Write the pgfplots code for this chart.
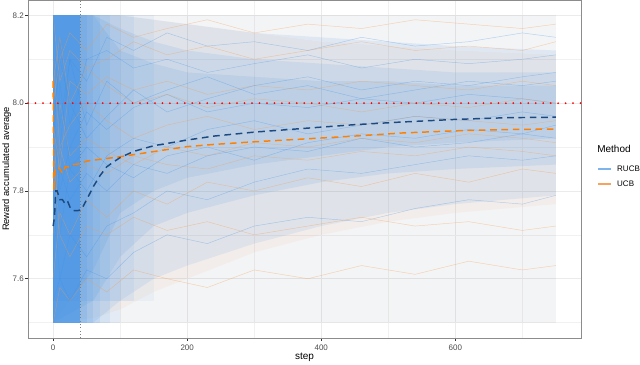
\documentclass[border=0pt]{standalone}
\usepackage{fontspec}
\setmainfont{Liberation Sans}
\usepackage{pgfplots}
\usepackage{pgfplotstable}
\usepgfplotslibrary{fillbetween}
\pgfplotsset{compat=1.18}

\definecolor{rucbL}{HTML}{3D8EE6}
\definecolor{ucbL}{HTML}{F59A4A}
\definecolor{rucbM}{HTML}{1C4A80}
\definecolor{ucbM}{HTML}{FF7F00}
\definecolor{gridc}{HTML}{EBEBEB}
\definecolor{txt}{HTML}{4D4D4D}
\definecolor{keyB}{HTML}{7FB3EC}
\definecolor{keyO}{HTML}{F6A35E}

% sample paths (thin background lines)
\pgfplotstableread{
step b1 b2 b3 b4 b5 b6 b7 b8 b9 b10 o1 o2 o3 o4 o5 o6 o7 o8 o9 o10
0   7.60 8.10 7.90 7.55 8.00 7.70 8.20 7.80 7.95 7.65 8.10 7.60 8.20 7.80 7.50 7.95 7.70 8.05 7.90 8.00
10  7.90 7.70 8.15 7.60 7.80 8.05 7.95 7.60 8.10 7.85 7.90 7.75 8.05 8.00 7.58 7.85 7.90 8.15 7.70 8.10
25  8.10 7.85 7.95 7.70 7.90 7.85 8.10 7.55 8.00 7.78 7.95 7.70 8.12 7.88 7.55 8.05 7.82 8.00 7.65 8.16
50  7.95 7.80 8.10 7.65 7.98 7.90 8.05 7.62 7.92 7.84 8.00 7.78 8.08 7.92 7.60 8.02 7.86 8.08 7.72 8.12
80  8.05 7.88 8.12 7.72 7.94 7.86 8.15 7.60 7.97 7.80 7.96 7.74 8.10 7.89 7.57 8.06 7.84 8.04 7.70 8.18
120 8.00 7.92 8.08 7.75 7.99 7.83 8.12 7.66 8.03 7.86 7.92 7.80 8.14 7.86 7.62 8.03 7.88 8.00 7.74 8.15
170 8.03 7.90 8.10 7.80 8.02 7.88 8.16 7.70 7.98 7.84 7.95 7.77 8.11 7.90 7.60 8.05 7.86 8.02 7.71 8.17
230 8.06 7.94 8.07 7.78 7.98 7.90 8.13 7.68 8.01 7.88 7.97 7.82 8.13 7.88 7.58 8.02 7.85 7.99 7.73 8.19
300 8.02 7.96 8.09 7.82 8.00 7.87 8.14 7.72 8.04 7.90 7.94 7.80 8.10 7.91 7.62 8.04 7.88 8.01 7.70 8.16
380 8.04 7.93 8.11 7.85 7.99 7.91 8.12 7.74 8.06 7.89 7.96 7.83 8.12 7.90 7.60 8.03 7.87 8.00 7.72 8.18
460 8.01 7.95 8.08 7.84 8.01 7.93 8.15 7.73 8.03 7.92 7.95 7.81 8.14 7.92 7.63 8.05 7.89 7.98 7.74 8.17
540 8.03 7.97 8.10 7.86 8.00 7.92 8.13 7.76 8.05 7.90 7.97 7.84 8.12 7.91 7.61 8.04 7.88 8.00 7.72 8.19
620 8.05 7.96 8.09 7.88 8.02 7.94 8.14 7.78 8.04 7.91 7.96 7.82 8.13 7.93 7.64 8.03 7.90 7.99 7.73 8.18
700 8.04 7.98 8.10 7.87 8.01 7.93 8.16 7.77 8.06 7.93 7.95 7.85 8.12 7.92 7.62 8.05 7.89 8.01 7.71 8.17
750 8.05 7.97 8.11 7.88 8.00 7.95 8.15 7.79 8.07 7.92 7.96 7.84 8.14 7.91 7.63 8.04 7.88 8.00 7.72 8.18
}\paths

% density bands of the runs: upper and lower edges
\pgfplotstableread{
x   u2   l2   u3   l3   u4   l4   uo   lo
0   8.20 7.50 8.20 7.50 8.20 7.50 8.20 7.50
60  8.20 7.50 8.20 7.55 8.20 7.62 8.20 7.51
100 8.20 7.55 8.17 7.65 8.12 7.75 8.20 7.53
150 8.19 7.60 8.14 7.72 8.09 7.80 8.19 7.57
200 8.18 7.63 8.12 7.75 8.07 7.83 8.18 7.60
300 8.16 7.68 8.10 7.79 8.06 7.86 8.16 7.66
400 8.15 7.72 8.09 7.82 8.05 7.88 8.14 7.70
500 8.14 7.75 8.08 7.84 8.05 7.90 8.13 7.73
600 8.13 7.77 8.07 7.85 8.04 7.91 8.12 7.75
750 8.12 7.79 8.07 7.86 8.04 7.92 8.11 7.77
}\bands

% mean curves
\pgfplotstableread{
step y
0 7.72
2 7.74
4 7.80
6 7.80
8 7.79
10 7.78
14 7.78
18 7.77
22 7.775
26 7.76
30 7.755
36 7.755
42 7.757
50 7.78
60 7.81
70 7.835
80 7.855
90 7.866
100 7.876
120 7.89
150 7.903
200 7.916
240 7.925
300 7.934
370 7.942
450 7.951
520 7.957
600 7.963
680 7.967
750 7.968
}\rucbmean

\pgfplotstableread{
step y
0 8.05
1 7.80
3 7.85
6 7.855
10 7.85
14 7.84
18 7.855
24 7.855
30 7.86
40 7.862
50 7.868
70 7.872
100 7.878
130 7.885
160 7.892
200 7.901
240 7.906
300 7.912
370 7.918
450 7.925
520 7.932
600 7.937
680 7.94
750 7.941
}\ucbmean

\begin{document}
\begin{tikzpicture}
\begin{axis}[
  name=ax,
  scale only axis, width=414.75pt, height=253.5pt,
  xmin=-37.5, xmax=787.5, ymin=7.465, ymax=8.235,
  xtick={0,200,400,600}, minor xtick={100,300,500,700},
  ytick={7.6,7.8,8.0,8.2}, minor ytick={7.5,7.7,7.9,8.1},
  grid=both,
  major grid style={color=gridc, line width=0.5pt},
  minor grid style={color=gridc!70, line width=0.3pt},
  tick pos=left, tick align=outside,
  major tick length=2pt, minor tick length=0pt,
  tick style={color=black!80, line width=0.5pt},
  axis line style={color=black!45, line width=0.6pt},
  ticklabel style={font=\fontsize{6}{7}\selectfont, text=txt},
  yticklabel style={inner xsep=1pt, /pgf/number format/.cd, fixed, fixed zerofill, precision=1},
  /pgf/number format/assume math mode=true,
  clip=false,
]
% density of the many runs
\addplot[draw=none, fill=ucbL, fill opacity=0.05] coordinates {(0,7.5)(0,8.2)(750,8.2)(750,7.5)};
\addplot[draw=none, fill=rucbL, fill opacity=0.06] coordinates {(0,7.5)(0,8.2)(750,8.2)(750,7.5)};
\addplot[draw=none, name path=uo] table[x=x, y=uo] {\bands};
\addplot[draw=none, name path=lo] table[x=x, y=lo] {\bands};
\addplot[ucbL, fill opacity=0.07] fill between[of=uo and lo];
\addplot[draw=none, name path=u2] table[x=x, y=u2] {\bands};
\addplot[draw=none, name path=l2] table[x=x, y=l2] {\bands};
\addplot[rucbL, fill opacity=0.11] fill between[of=u2 and l2];
\addplot[draw=none, name path=u3] table[x=x, y=u3] {\bands};
\addplot[draw=none, name path=l3] table[x=x, y=l3] {\bands};
\addplot[rucbL, fill opacity=0.12] fill between[of=u3 and l3];
\addplot[draw=none, name path=u4] table[x=x, y=u4] {\bands};
\addplot[draw=none, name path=l4] table[x=x, y=l4] {\bands};
\addplot[rucbL, fill opacity=0.12] fill between[of=u4 and l4];
% early, almost solid part
\addplot[draw=none, fill=rucbL, fill opacity=0.06] coordinates {(0,7.55)(0,8.2)(150,8.2)(150,7.55)};
\addplot[draw=none, fill=rucbL, fill opacity=0.08] coordinates {(0,7.55)(0,8.2)(120,8.2)(120,7.55)};
\addplot[draw=none, fill=rucbL, fill opacity=0.08] coordinates {(0,7.5)(0,8.2)(100,8.2)(100,7.5)};
\addplot[draw=none, fill=rucbL, fill opacity=0.1] coordinates {(0,7.5)(0,8.2)(85,8.2)(85,7.5)};
\addplot[draw=none, fill=rucbL, fill opacity=0.1] coordinates {(0,7.5)(0,8.2)(70,8.2)(70,7.5)};
\addplot[draw=none, fill=rucbL, fill opacity=0.12] coordinates {(0,7.5)(0,8.2)(60,8.2)(60,7.5)};
\addplot[draw=none, fill=rucbL, fill opacity=0.15] coordinates {(0,7.5)(0,8.2)(50,8.2)(50,7.5)};
\addplot[draw=none, fill=rucbL, fill opacity=0.6] coordinates {(0,7.5)(0,8.2)(40,8.2)(40,7.5)};
% a few individual runs
\pgfplotsinvokeforeach{1,...,10}{
  \addplot[ucbL, line width=0.35pt, opacity=0.4] table[x=step, y=o#1] {\paths};
  \addplot[rucbL, line width=0.35pt, opacity=0.35] table[x=step, y=b#1] {\paths};
}
% reference lines
\addplot[black!50, line width=0.5pt, dotted] coordinates {(40,7.465)(40,8.235)};
\addplot[red, line width=1.5pt, line cap=round, dash pattern=on 0pt off 5.6pt] coordinates {(-37.5,8)(787.5,8)};
% means
\addplot[ucbM, line width=1.1pt, dash pattern=on 5pt off 3.5pt] table[x=step, y=y] {\ucbmean};
\addplot[rucbM, line width=1.1pt, dash pattern=on 5pt off 3.5pt] table[x=step, y=y] {\rucbmean};

% labels
\node[rotate=90, font=\fontsize{7}{8.5}\selectfont] at ([xshift=-16pt]rel axis cs:0,0.5) {Reward accumulated average};
\node[font=\fontsize{7.5}{9}\selectfont] at ([yshift=-14.25pt]rel axis cs:0.5,0) {step};
% legend
\node[anchor=west, font=\fontsize{7.5}{9}\selectfont, inner sep=0pt] at (rel axis cs:1.029,0.559) {Method};
\draw[keyB, line width=1pt] (rel axis cs:1.031,0.5) -- (rel axis cs:1.055,0.5);
\draw[keyO, line width=1pt] (rel axis cs:1.031,0.456) -- (rel axis cs:1.055,0.456);
\node[anchor=west, font=\fontsize{6}{7}\selectfont, inner sep=0pt] at (rel axis cs:1.065,0.5) {RUCB};
\node[anchor=west, font=\fontsize{6}{7}\selectfont, inner sep=0pt] at (rel axis cs:1.065,0.456) {UCB};
\end{axis}
\pgfresetboundingbox
\path ([shift={(-21pt,-20.25pt)}]ax.south west) rectangle ([xshift=44.25pt]ax.north east);
\end{tikzpicture}
\end{document}
